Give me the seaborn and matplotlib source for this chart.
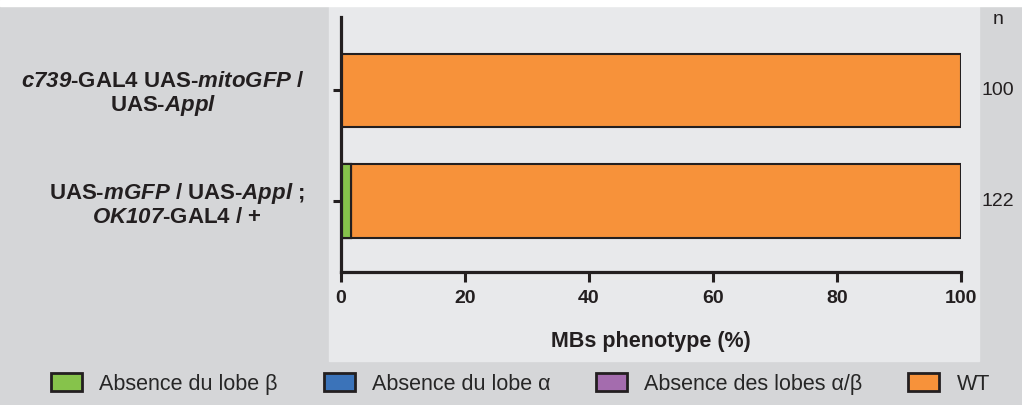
import matplotlib
matplotlib.use('Agg')
import matplotlib.pyplot as plt
import seaborn as sns
import numpy as np
from matplotlib.patches import Patch, Rectangle

# data
genotypes = [
    '$\\mathsf{c739}$-GAL4 UAS-$\\mathsf{mitoGFP}$ /\nUAS-$\\mathsf{Appl}$',
    'UAS-$\\mathsf{mGFP}$ / UAS-$\\mathsf{Appl}$ ;\n$\\mathsf{OK107}$-GAL4 / +',
]
absence_beta = [0.0, 1.6]
absence_alpha = [0.0, 0.0]
absence_alpha_beta = [0.0, 0.0]
wt = [100.0, 98.4]
n_counts = [100, 122]

phenotypes = ['Absence du lobe β', 'Absence du lobe α', 'Absence des lobes α/β', 'WT']
colors = ['#86c34b', '#3b73b9', '#a46cae', '#f7923a']

sns.set_style('white')
plt.rcParams['font.family'] = ['Liberation Sans', 'DejaVu Sans']
# italic parts of the genotype names go through mathtext (bold italic)
plt.rcParams['mathtext.fontset'] = 'custom'
plt.rcParams['mathtext.sf'] = 'Liberation Sans:italic:bold'
plt.rcParams['mathtext.rm'] = 'Liberation Sans:bold'
plt.rcParams['mathtext.it'] = 'Liberation Sans:italic:bold'

dark = '#231f20'

fig = plt.figure(figsize=(10.22, 4.05), dpi=100, facecolor='#d5d6d8')
# light panel behind the plot and white strip on top
fig.patches.append(Rectangle((329 / 1022, 1 - 361 / 405), 650 / 1022, 355 / 405,
                             transform=fig.transFigure, color='#e8e9eb', zorder=-2))
fig.patches.append(Rectangle((0, 1 - 6 / 405), 1, 6 / 405,
                             transform=fig.transFigure, color='white', zorder=-2))

ax = fig.add_axes([341 / 1022, 1 - 272 / 405, 620 / 1022, 255 / 405])
ax.patch.set_visible(False)

# stacked bars: draw cumulative totals from the back to the front
series = [absence_beta, absence_alpha, absence_alpha_beta, wt]
cum = np.cumsum(np.array(series), axis=0)
for i in range(len(series) - 1, -1, -1):
    sns.barplot(x=cum[i], y=genotypes, color=colors[i], saturation=1,
                edgecolor=dark, linewidth=1.5, width=0.66, orient='h', ax=ax)

ax.set_xlim(0, 100)
ax.set_ylim(1.64, -0.66)
ax.set_xticks([0, 20, 40, 60, 80, 100])
ax.set_ylabel('')
ax.set_xlabel('MBs phenotype (%)', fontsize=15.5, fontweight='bold',
              color=dark, labelpad=17)

for s in ['top', 'right']:
    ax.spines[s].set_visible(False)
for s in ['left', 'bottom']:
    ax.spines[s].set_linewidth(2.3)
    ax.spines[s].set_color(dark)

ax.tick_params(axis='x', length=7, width=2.2, color=dark, pad=6, bottom=True)
ax.tick_params(axis='y', length=6, width=2.2, color=dark, pad=20, left=True)
for lab in ax.get_xticklabels():
    lab.set_fontsize(14)
    lab.set_fontweight('bold')
    lab.set_color(dark)
for lab in ax.get_yticklabels():
    lab.set_fontsize(16)
    lab.set_fontweight('bold')
    lab.set_multialignment('center')
    lab.set_color(dark)
    lab.set_linespacing(1.1)

# n column on the right
fig.text(998 / 1022, 1 - 20 / 405, 'n', ha='center', va='center', fontsize=14, color=dark)
for i, n in enumerate(n_counts):
    ax.text(1.06, i, str(n), transform=ax.get_yaxis_transform(), ha='center',
            va='center', fontsize=14, color=dark)

handles = [Patch(facecolor=c, edgecolor=dark, linewidth=2) for c in colors]
fig.legend(handles, phenotypes, loc='center left', bbox_to_anchor=(51 / 1022, 1 - 384 / 405),
           ncol=4, frameon=False, prop={'size': 15.5},
           handlelength=1.44, handleheight=0.85, handletextpad=0.79, columnspacing=2.14,
           borderpad=0, borderaxespad=0)

fig.savefig('out.png', dpi=100, facecolor=fig.get_facecolor())
